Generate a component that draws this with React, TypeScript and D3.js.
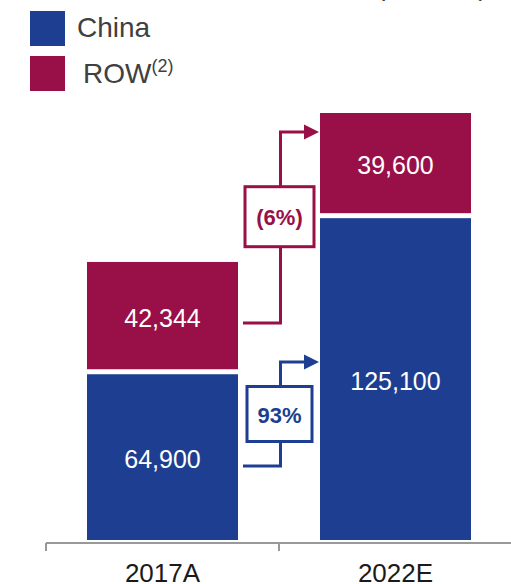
import React from "react";
import * as d3 from "d3";

const categories = ["2017A", "2022E"];
const chinaValues = [64900, 125100];
const rowValues = [42344, 39600];
const valueLabels = [["64,900", "42,344"], ["125,100", "39,600"]];
const growthLabels = ["93%", "(6%)"];
const seriesNames = ["China", "ROW"];

const BLUE = "#1E3F91";
const RED = "#990F47";
const FONT = "'Liberation Sans', Arial, Helvetica, sans-serif";

export default function App() {
  const W = 511, H = 584;
  const x = d3.scaleBand<string>().domain(categories).range([46, 512]);
  const totalMax = d3.max(categories.map((_, i) => chinaValues[i] + rowValues[i])) as number;
  const y = d3.scaleLinear().domain([0, totalMax]).range([540, 113]);
  const barW = x.bandwidth() * 0.648;
  const gap = 2.5;

  const bars = categories.map((c, i) => {
    const cx = (x(c) as number) + x.bandwidth() / 2;
    const x0 = cx - barW / 2;
    const b0 = y(0), b1 = y(chinaValues[i]), r1 = y(chinaValues[i] + rowValues[i]);
    return { c, cx, x0, b0, b1, r1, i };
  });

  const boundary = x(categories[1]) as number;
  const bar1Right = bars[0].x0 + barW;
  const bar2Left = bars[1].x0;
  // annotation connectors (value levels along y scale)
  const anns = [
    { color: BLUE, from: 28500, to: 68700, box: 48600, bw: 65, bh: 55, label: growthLabels[0] },
    { color: RED, from: 83700, to: 157400, box: 124700, bw: 69, bh: 60, label: growthLabels[1] },
  ];

  return (
    <svg width={W} height={H} style={{ position: "absolute", left: 0, top: 0 }} fontFamily={FONT}>
      <text x={482} y={-4} fontSize={26} fill="#404040" textAnchor="end">Unit Shipments (</text>
      {/* legend */}
      <rect x={30} y={11} width={35} height={35} fill={BLUE} />
      <text x={77} y={37} fontSize={28} fill="#404040">{seriesNames[0]}</text>
      <rect x={30} y={56} width={35} height={35} fill={RED} />
      <text x={83} y={83} fontSize={28} fill="#404040">
        {seriesNames[1]}
        <tspan fontSize={18} dy={-11}>(2)</tspan>
      </text>

      {bars.map((b) => (
        <g key={b.c}>
          <rect x={b.x0} y={b.b1 + gap} width={barW} height={b.b0 - b.b1 - gap} fill={BLUE} />
          <rect x={b.x0} y={b.r1} width={barW} height={b.b1 - gap - b.r1} fill={RED} />
          <text x={b.cx} y={(b.b0 + b.b1) / 2 + 3} fontSize={25} fill="#fff" textAnchor="middle" dominantBaseline="central">{valueLabels[b.i][0]}</text>
          <text x={b.cx} y={(b.b1 + b.r1) / 2 + 1} fontSize={25} fill="#fff" textAnchor="middle" dominantBaseline="central">{valueLabels[b.i][1]}</text>
        </g>
      ))}

      {anns.map((a, k) => {
        const vx = boundary + 1.5;
        const yf = y(a.from), yt = y(a.to), yb = y(a.box);
        const tipX = bar2Left - 1;
        const headL = 15;
        return (
          <g key={k}>
            <path d={`M${bar1Right + 5},${yf} H${vx} V${yt} H${tipX - headL}`} fill="none" stroke={a.color} strokeWidth={3} />
            <path d={`M${tipX - headL},${yt - 7.5} L${tipX},${yt} L${tipX - headL},${yt + 7.5} Z`} fill={a.color} />
            <rect x={vx - a.bw / 2 - 1} y={yb - a.bh / 2} width={a.bw} height={a.bh} fill="#fff" stroke={a.color} strokeWidth={3} />
            <text x={vx - 1} y={yb + 1} fontSize={22} fontWeight="bold" fill={a.color} textAnchor="middle" dominantBaseline="central">{a.label}</text>
          </g>
        );
      })}

      {/* axis */}
      <line x1={46} x2={511} y1={543} y2={543} stroke="#999" strokeWidth={2} />
      {[46, boundary].map((t) => (
        <line key={t} x1={t} x2={t} y1={543} y2={551} stroke="#999" strokeWidth={2} />
      ))}
      {bars.map((b) => (
        <text key={b.c} x={b.cx} y={582} fontSize={26} fill="#1a1a1a" textAnchor="middle">{b.c}</text>
      ))}
    </svg>
  );
}
